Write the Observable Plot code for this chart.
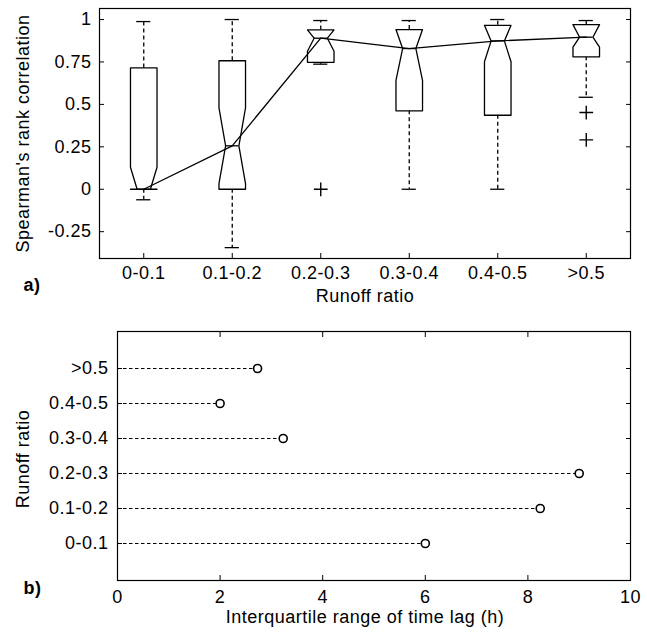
<!DOCTYPE html>
<html>
<head>
<meta charset="utf-8">
<script src="https://cdn.jsdelivr.net/npm/d3@7"></script>
<script src="https://cdn.jsdelivr.net/npm/@observablehq/plot@0.6"></script>
<style>
  body { margin: 0; background: #fff; }
  #chart svg { display: block; }
  #chart svg text { letter-spacing: 0.5px; }
</style>
</head>
<body>
<div id="chart"></div>
<script>
// ---- data ----
const categories = ["0-0.1", "0.1-0.2", "0.2-0.3", "0.3-0.4", "0.4-0.5", ">0.5"];
// panel a) boxplot statistics of Spearman's rank correlation
const whiskerHigh   = [0.988, 1.000, 0.994, 0.994, 1.000, 0.994];
const upperQuartile = [0.715, 0.757, 0.939, 0.941, 0.966, 0.970];
const notchHigh     = [0.130, 0.480, 0.939, 0.941, 0.966, 0.970];
const medians       = [0.000, 0.256, 0.890, 0.829, 0.874, 0.896];
const notchLow      = [0.000, 0.033, 0.813, 0.641, 0.751, 0.837];
const lowerQuartile = [0.000, 0.000, 0.748, 0.462, 0.436, 0.780];
const whiskerLow    = [-0.062, -0.344, 0.737, 0.000, 0.000, 0.542];
const outlierGroup  = ["0.2-0.3", ">0.5", ">0.5"];
const outlierValue  = [0.000, 0.452, 0.291];
const correlationTicks = [-0.25, 0, 0.25, 0.5, 0.75, 1];
// panel b) interquartile range of time lag (h)
const iqrTimeLag = [6.00, 8.24, 9.00, 3.23, 2.00, 2.73];
const lagTicks = [0, 2, 4, 6, 8, 10];

// ---- derived tables ----
const BOX_HALF = 0.15, NOTCH_HALF = 0.075, CAP_HALF = 0.08;
const positions = categories.map((c, i) => i + 1);
const boxes = categories.map((c, i) => ({
  i, x: i + 1, cat: c,
  wHi: whiskerHigh[i], q3: upperQuartile[i], nHi: notchHigh[i],
  med: medians[i], nLo: notchLow[i], q1: lowerQuartile[i], wLo: whiskerLow[i]
}));
const outline = boxes.flatMap(b => {
  const lo = Math.max(b.nLo, b.q1), hi = Math.min(b.nHi, b.q3);
  return [[-BOX_HALF, b.q1], [-BOX_HALF, lo], [-NOTCH_HALF, b.med], [-BOX_HALF, hi], [-BOX_HALF, b.q3],
          [BOX_HALF, b.q3], [BOX_HALF, hi], [NOTCH_HALF, b.med], [BOX_HALF, lo], [BOX_HALF, b.q1], [-BOX_HALF, b.q1]]
    .map(([o, y]) => ({x: b.x + o, y, g: b.i}));
});
const outliers = outlierGroup.map((g, k) => ({x: categories.indexOf(g) + 1, v: outlierValue[k]}));
const lags = categories.map((c, i) => ({cat: c, v: iqrTimeLag[i]}));

const FONT = "'Liberation Sans', Arial, Helvetica, sans-serif";
const baseStyle = {fontFamily: FONT, fontSize: "18px", color: "black", background: "white", overflow: "visible"};
const LW = 1.3;

// ---- panel a ----
const panelA = Plot.plot({
  width: 647, height: 315,
  marginLeft: 99, marginRight: 17, marginTop: 8, marginBottom: 57,
  style: baseStyle,
  x: {type: "linear", domain: [0.5, 6.5]},
  y: {domain: [-0.408, 1.065]},
  marks: [
    Plot.axisX({ticks: positions, tickFormat: d => categories[d - 1], tickSize: 0, tickPadding: 8, label: null}),
    Plot.axisX({ticks: positions, tickSize: 5, dy: -5, fill: "none", stroke: "black", label: null}),
    Plot.axisY({ticks: correlationTicks, tickFormat: d => String(d), tickSize: 0, tickPadding: 8, label: null}),
    Plot.axisY({ticks: correlationTicks, tickSize: 5, dx: 5, fill: "none", stroke: "black", label: null}),
    Plot.axisY({anchor: "right", ticks: correlationTicks, tickSize: 5, dx: -5, fill: "none", stroke: "black", label: null}),
    Plot.ruleX(boxes, {x: "x", y1: "q3", y2: "wHi", stroke: "black", strokeWidth: LW, strokeDasharray: "4,3"}),
    Plot.ruleX(boxes, {x: "x", y1: "q1", y2: "wLo", stroke: "black", strokeWidth: LW, strokeDasharray: "4,3"}),
    Plot.ruleY(boxes, {y: "wHi", x1: d => d.x - CAP_HALF, x2: d => d.x + CAP_HALF, stroke: "black", strokeWidth: LW}),
    Plot.ruleY(boxes, {y: "wLo", x1: d => d.x - CAP_HALF, x2: d => d.x + CAP_HALF, stroke: "black", strokeWidth: LW}),
    Plot.line(outline, {x: "x", y: "y", z: "g", stroke: "black", strokeWidth: LW, fill: "white", curve: "linear"}),
    Plot.ruleY(boxes, {y: "med", x1: d => d.x - NOTCH_HALF, x2: d => d.x + NOTCH_HALF, stroke: "black", strokeWidth: LW}),
    Plot.line(boxes, {x: "x", y: "med", stroke: "black", strokeWidth: LW}),
    Plot.dot(outliers, {x: "x", y: "v", symbol: "plus", r: 4.5, stroke: "black", strokeWidth: 1.4}),
    Plot.frame({stroke: "black", strokeWidth: 1.2}),
    Plot.text(["Runoff ratio"], {text: d => d, frameAnchor: "bottom", dy: 38, textAnchor: "middle", lineAnchor: "middle", fill: "black"}),
    Plot.text(["Spearman's rank correlation"], {text: d => d, frameAnchor: "left", dx: -76, rotate: -90, textAnchor: "middle", lineAnchor: "middle", fill: "black"}),
    Plot.text(["a)"], {text: d => d, frameAnchor: "bottom-left", dx: -76, dy: 27, textAnchor: "start", lineAnchor: "middle", fontWeight: "bold", fill: "black"})
  ]
});

// ---- panel b ----
const panelB = Plot.plot({
  width: 647, height: 318,
  marginLeft: 117, marginRight: 17, marginTop: 16, marginBottom: 53,
  style: baseStyle,
  x: {type: "linear", domain: [0, 10]},
  y: {type: "point", domain: categories.slice().reverse(), padding: 1},
  marks: [
    Plot.axisX({ticks: lagTicks, tickSize: 0, tickPadding: 10, label: null}),
    Plot.axisX({ticks: lagTicks, tickSize: 5, dy: -5, fill: "none", stroke: "black", label: null}),
    Plot.axisX({anchor: "top", ticks: lagTicks, tickSize: 5, dy: 5, fill: "none", stroke: "black", label: null}),
    Plot.axisY({tickSize: 0, tickPadding: 9, label: null}),
    Plot.axisY({tickSize: 5, dx: 5, fill: "none", stroke: "black", label: null}),
    Plot.axisY({anchor: "right", tickSize: 5, dx: -5, fill: "none", stroke: "black", label: null}),
    Plot.ruleY(lags, {y: "cat", x1: 0, x2: "v", stroke: "black", strokeWidth: 1.2, strokeDasharray: "3.5,2.5"}),
    Plot.dot(lags, {x: "v", y: "cat", r: 4, stroke: "black", strokeWidth: 1.6, fill: "white"}),
    Plot.frame({stroke: "black", strokeWidth: 1.2}),
    Plot.text(["Interquartile range of time lag (h)"], {text: d => d, frameAnchor: "bottom", dx: -9, dy: 37, textAnchor: "middle", lineAnchor: "middle", fill: "black"}),
    Plot.text(["Runoff ratio"], {text: d => d, frameAnchor: "left", dx: -94.5, dy: 3, rotate: -90, textAnchor: "middle", lineAnchor: "middle", fill: "black"}),
    Plot.text(["b)"], {text: d => d, frameAnchor: "bottom-left", dx: -94, dy: 8, textAnchor: "start", lineAnchor: "middle", fontWeight: "bold", fill: "black"})
  ]
});

const chart = document.getElementById("chart");
chart.appendChild(panelA);
chart.appendChild(panelB);
</script>
</body>
</html>
